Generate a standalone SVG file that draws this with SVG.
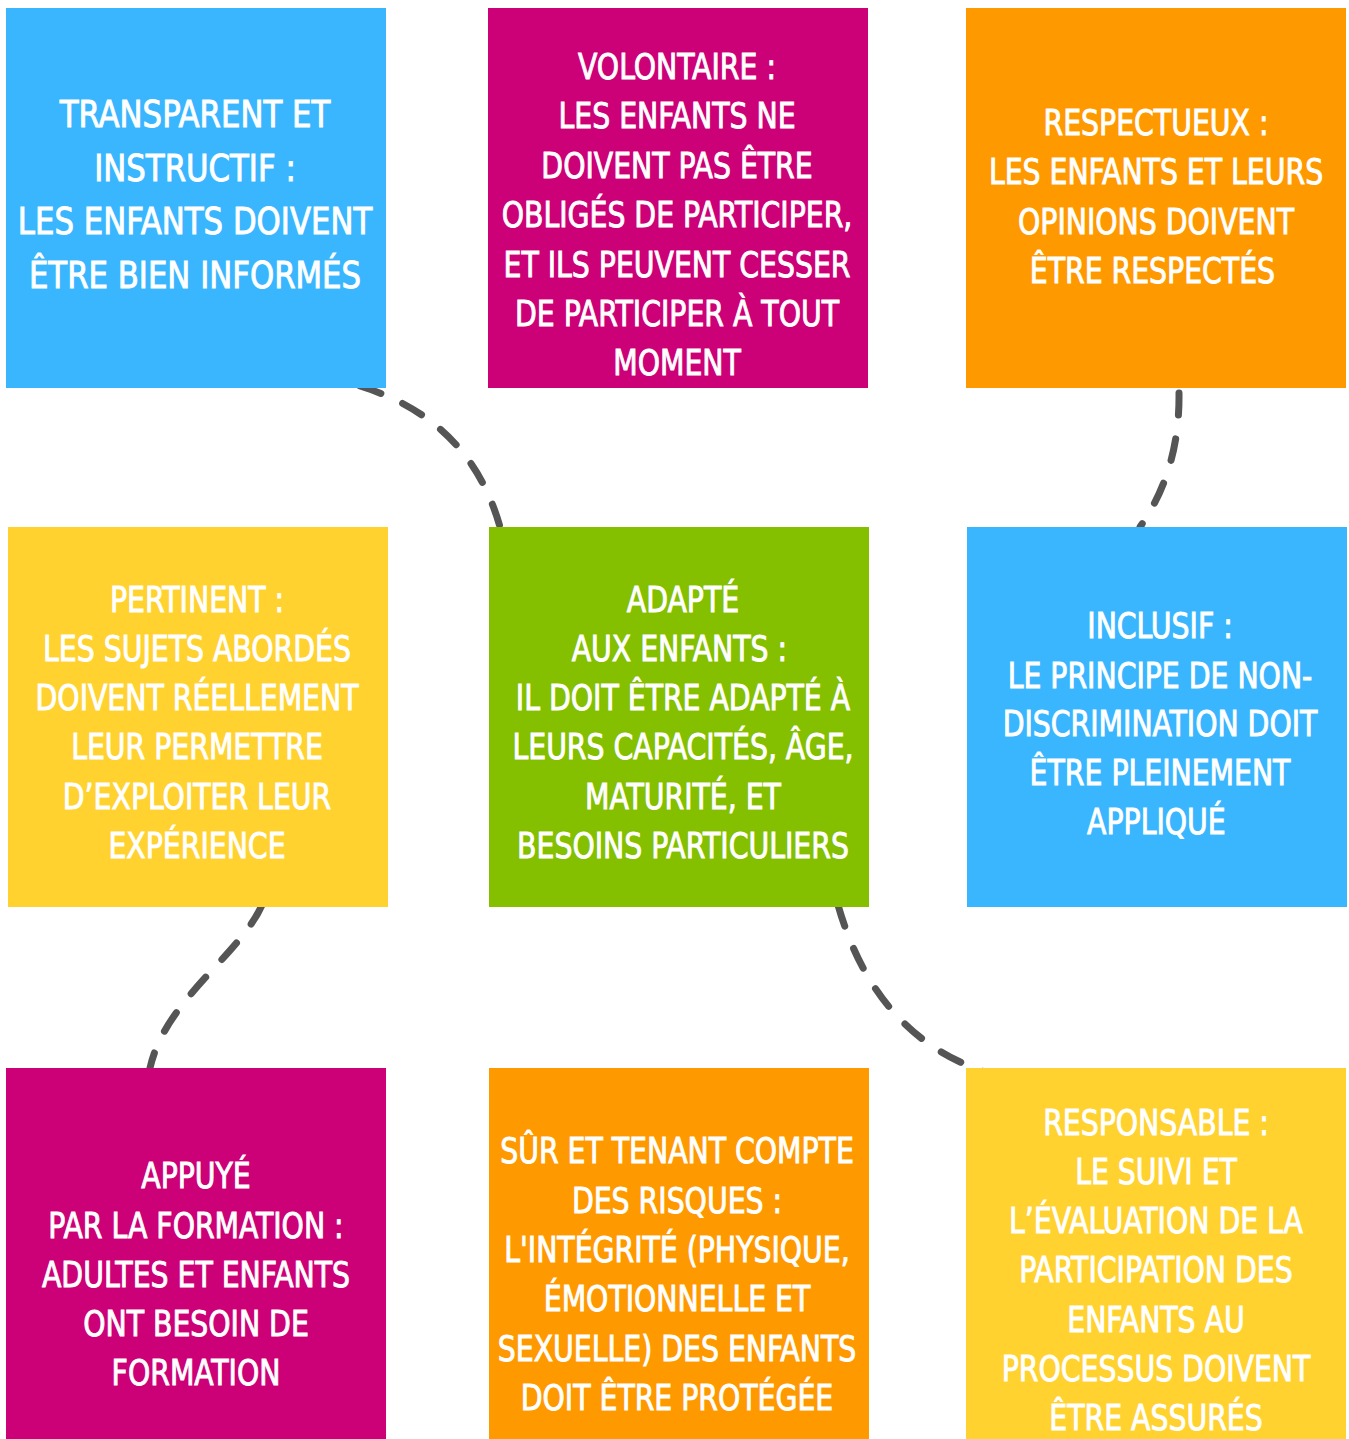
<svg xmlns="http://www.w3.org/2000/svg" width="1349" height="1439" viewBox="0 0 1349 1439">
<style>
.t{font-family:"DejaVu Sans Condensed","Liberation Sans",sans-serif;font-size:35px;fill:#fff;stroke:#fff;stroke-width:0.9;text-anchor:middle}
.t1{font-size:37px}
.c{fill:none;stroke:#555;stroke-width:7;stroke-linecap:round;stroke-dasharray:22 24}
</style>
<rect width="1349" height="1439" fill="#fff"/>
<g id="connectors">
<path class="c" d="M 360 386 Q 470 420 500 527"/>
<path class="c" d="M 1179 393 Q 1180 470 1140 527"/>
<path class="c" d="M 262 905 C 240 955 165 1000 150 1068"/>
<path class="c" d="M 838 905 Q 875 1035 985 1072"/>
</g>
<g id="n1"><rect x="6" y="8" width="380" height="380" fill="#3AB6FF"/>
<g transform="translate(195 0) scale(0.925 1)"><text class="t t1"><tspan x="0" y="127">TRANSPARENT ET</tspan><tspan x="0" y="181">INSTRUCTIF :</tspan><tspan x="0" y="234">LES ENFANTS DOIVENT</tspan><tspan x="0" y="288">ÊTRE BIEN INFORMÉS</tspan></text></g></g>
<g id="n2"><rect x="488" y="8" width="380" height="380" fill="#CC0077"/>
<g transform="translate(677 0) scale(0.9 1)"><text class="t"><tspan x="0" y="79">VOLONTAIRE :</tspan><tspan x="0" y="128">LES ENFANTS NE</tspan><tspan x="0" y="178">DOIVENT PAS ÊTRE</tspan><tspan x="0" y="227">OBLIGÉS DE PARTICIPER,</tspan><tspan x="0" y="277">ET ILS PEUVENT CESSER</tspan><tspan x="0" y="326">DE PARTICIPER À TOUT</tspan><tspan x="0" y="375">MOMENT</tspan></text></g></g>
<g id="n3"><rect x="966" y="8" width="380" height="380" fill="#FF9900"/>
<g transform="translate(1156 0) scale(0.9 1)"><text class="t"><tspan x="0" y="135">RESPECTUEUX :</tspan><tspan x="0" y="184">LES ENFANTS ET LEURS</tspan><tspan x="0" y="234">OPINIONS DOIVENT</tspan><tspan x="-4" y="283">ÊTRE RESPECTÉS</tspan></text></g></g>
<g id="n4"><rect x="8" y="527" width="380" height="380" fill="#FFD230"/>
<g transform="translate(197 0) scale(0.9 1)"><text class="t"><tspan x="0" y="612">PERTINENT :</tspan><tspan x="0" y="661">LES SUJETS ABORDÉS</tspan><tspan x="0" y="710">DOIVENT RÉELLEMENT</tspan><tspan x="0" y="759">LEUR PERMETTRE</tspan><tspan x="0" y="809">D’EXPLOITER LEUR</tspan><tspan x="0" y="858">EXPÉRIENCE</tspan></text></g></g>
<g id="n5"><rect x="489" y="527" width="380" height="380" fill="#84C000"/>
<g transform="translate(683 0) scale(0.9 1)"><text class="t"><tspan x="0" y="612">ADAPTÉ</tspan><tspan x="-4" y="661">AUX ENFANTS :</tspan><tspan x="0" y="710">IL DOIT ÊTRE ADAPTÉ À</tspan><tspan x="0" y="759">LEURS CAPACITÉS, ÂGE,</tspan><tspan x="0" y="809">MATURITÉ, ET</tspan><tspan x="0" y="858">BESOINS PARTICULIERS</tspan></text></g></g>
<g id="n6"><rect x="967" y="527" width="380" height="380" fill="#3AB6FF"/>
<g transform="translate(1160 0) scale(0.9 1)"><text class="t"><tspan x="0" y="638">INCLUSIF :</tspan><tspan x="0" y="688">LE PRINCIPE DE NON-</tspan><tspan x="0" y="736">DISCRIMINATION DOIT</tspan><tspan x="0" y="785">ÊTRE PLEINEMENT</tspan><tspan x="-4" y="834">APPLIQUÉ</tspan></text></g></g>
<g id="n7"><rect x="6" y="1068" width="380" height="371" fill="#CC0077"/>
<g transform="translate(196 0) scale(0.9 1)"><text class="t"><tspan x="0" y="1188">APPUYÉ</tspan><tspan x="0" y="1238">PAR LA FORMATION :</tspan><tspan x="0" y="1287">ADULTES ET ENFANTS</tspan><tspan x="0" y="1336">ONT BESOIN DE</tspan><tspan x="0" y="1385">FORMATION</tspan></text></g></g>
<g id="n8"><rect x="489" y="1068" width="380" height="371" fill="#FF9900"/>
<g transform="translate(677 0) scale(0.9 1)"><text class="t"><tspan x="0" y="1163">SÛR ET TENANT COMPTE</tspan><tspan x="0" y="1213">DES RISQUES :</tspan><tspan x="0" y="1262">L'INTÉGRITÉ (PHYSIQUE,</tspan><tspan x="0" y="1311">ÉMOTIONNELLE ET</tspan><tspan x="0" y="1361">SEXUELLE) DES ENFANTS</tspan><tspan x="0" y="1410">DOIT ÊTRE PROTÉGÉE</tspan></text></g></g>
<g id="n9"><rect x="966" y="1068" width="380" height="371" fill="#FFD230"/>
<g transform="translate(1156 0) scale(0.9 1)"><text class="t"><tspan x="0" y="1135">RESPONSABLE :</tspan><tspan x="0" y="1184">LE SUIVI ET</tspan><tspan x="0" y="1233">L’ÉVALUATION DE LA</tspan><tspan x="0" y="1282">PARTICIPATION DES</tspan><tspan x="0" y="1332">ENFANTS AU</tspan><tspan x="0" y="1381">PROCESSUS DOIVENT</tspan><tspan x="0" y="1430">ÊTRE ASSURÉS</tspan></text></g></g>
</svg>
